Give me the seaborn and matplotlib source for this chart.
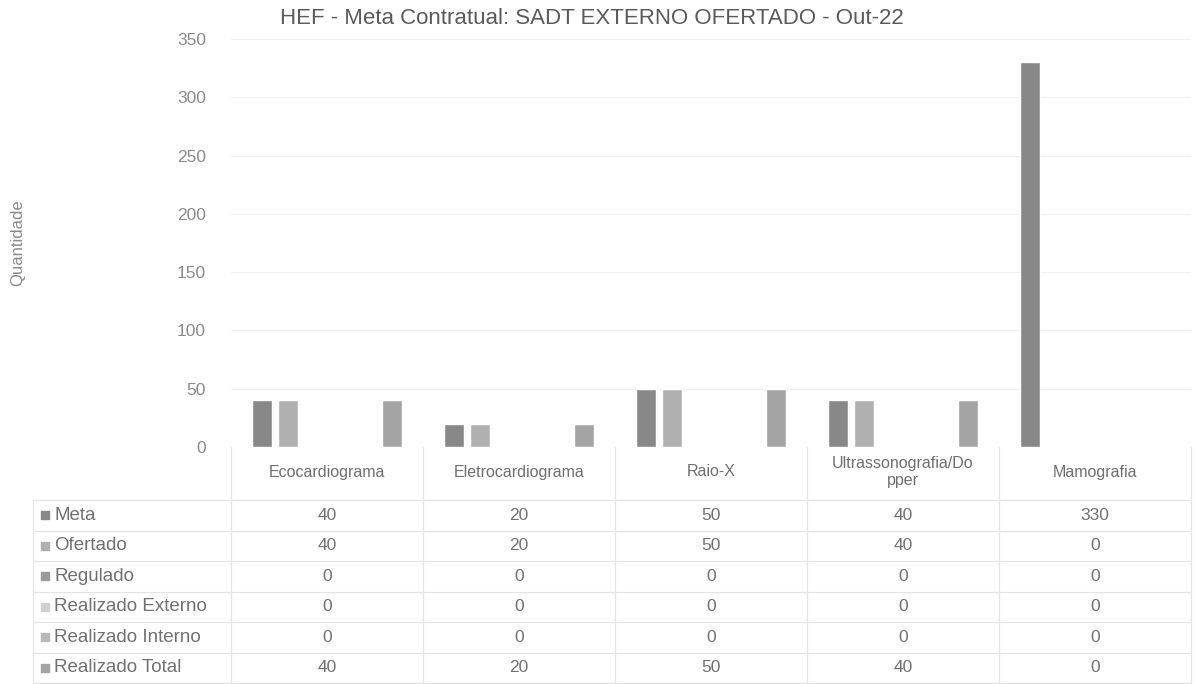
import numpy as np
import pandas as pd
import matplotlib
matplotlib.use("Agg")
import matplotlib.pyplot as plt
import seaborn as sns

# data
exames = ["Ecocardiograma", "Eletrocardiograma", "Raio-X", "Ultrassonografia/Dopper", "Mamografia"]
exame_labels = ["Ecocardiograma", "Eletrocardiograma", "Raio-X", "Ultrassonografia/Do\npper", "Mamografia"]
series = ["Meta", "Ofertado", "Regulado", "Realizado Externo", "Realizado Interno", "Realizado Total"]
meta = [40, 20, 50, 40, 330]
ofertado = [40, 20, 50, 40, 0]
regulado = [0, 0, 0, 0, 0]
realizado_externo = [0, 0, 0, 0, 0]
realizado_interno = [0, 0, 0, 0, 0]
realizado_total = [40, 20, 50, 40, 0]
yticks = [0, 50, 100, 150, 200, 250, 300, 350]

valores = [meta, ofertado, regulado, realizado_externo, realizado_interno, realizado_total]
colors = ["#888888", "#b0b0b0", "#9a9a9a", "#d0d0d0", "#b8b8b8", "#a4a4a4"]

rows = []
for s, vals in zip(series, valores):
    for e, v in zip(exames, vals):
        rows.append({"Exame": e, "Serie": s, "Quantidade": v})
df = pd.DataFrame(rows)

sns.set_style("white")
plt.rcParams["font.family"] = ["Liberation Sans", "DejaVu Sans"]

W, H = 1195, 684
fig = plt.figure(figsize=(W / 100, H / 100), dpi=100)

left, right = 231, 1191
y0, ytop = 447, 39
ax = fig.add_axes([left / W, 1 - y0 / H, (right - left) / W, (y0 - ytop) / H])
sns.barplot(data=df, x="Exame", y="Quantidade", hue="Serie", order=exames,
            hue_order=series, palette=colors, width=0.81, gap=0.25,
            saturation=1, legend=False, ax=ax)
ax.set_xlim(-0.5, len(exames) - 0.5)
ax.set_ylim(0, 350)
ax.set_yticks(yticks)
ax.set_yticklabels([str(t) for t in yticks], fontsize=12.5, color="#8a8a8a")
ax.tick_params(axis="y", length=0, pad=18)
ax.set_xticks([])
ax.set_xlabel("")
ax.set_ylabel("")
for sp in ax.spines.values():
    sp.set_visible(False)
ax.grid(axis="y", color="#f0f0f0", lw=0.8)
ax.set_axisbelow(True)
ax.patch.set_alpha(0)

fig.text(18 / W, 1 - 243 / H, "Quantidade", rotation=90, ha="center", va="center",
         fontsize=12, color="#8a8a8a")
fig.text(0.495, 1 - 19 / H, "HEF - Meta Contratual: SADT EXTERNO OFERTADO - Out-22",
         ha="center", va="center", fontsize=16, color="#5a5a5a")

# data table under the chart
tb = 683
tab = fig.add_axes([left / W, 1 - tb / H, (right - left) / W, (tb - y0) / H])
tab.set_xlim(-0.5, len(exames) - 0.5)
tab.set_ylim(tb - y0, 0)
tab.axis("off")

row_h = 30.5
first_line = 53
x_leg = -0.5 - (left - 33) / 192
line_kw = dict(color="#e4e4e4", lw=0.9, clip_on=False)

for i, lab in enumerate(exame_labels):
    tab.text(i, 25, lab, ha="center", va="center", fontsize=11.5, color="#6e6e6e",
             linespacing=1.15)

for k in range(len(series) + 1):
    y = first_line + k * row_h
    tab.plot([x_leg, len(exames) - 0.5], [y, y], **line_kw)
for k in range(len(exames) + 1):
    tab.plot([k - 0.5, k - 0.5], [0, first_line + len(series) * row_h], **line_kw)
tab.plot([x_leg, x_leg], [first_line, first_line + len(series) * row_h], **line_kw)

for j, (s, vals, c) in enumerate(zip(series, valores, colors)):
    yc = first_line + (j + 0.5) * row_h
    tab.scatter([x_leg + 0.06], [yc], marker="s", s=30, color=c, clip_on=False)
    tab.text(x_leg + 0.11, yc, s, ha="left", va="center", fontsize=13.5, color="#707070")
    for i, v in enumerate(vals):
        tab.text(i, yc, str(v), ha="center", va="center", fontsize=12.5, color="#707070")

fig.savefig("out.png", dpi=100, facecolor="white")
